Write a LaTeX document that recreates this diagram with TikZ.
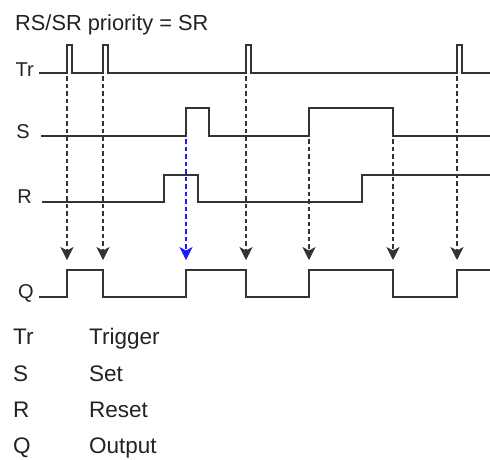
\documentclass[tikz,border=0pt]{standalone}
\usepackage{fontspec}
\setmainfont{Liberation Sans}
\usetikzlibrary{arrows.meta}
\definecolor{wave}{HTML}{333333}
\definecolor{txt}{HTML}{222222}
\definecolor{blu}{HTML}{1A1AFF}
\begin{document}
\begin{tikzpicture}[x=1pt,y=-1pt,
  wavel/.style={draw=wave,line width=2pt,line join=miter},
  dasharrow/.style={draw=wave,line width=1.3pt,dash pattern=on 4.5pt off 3pt,
    -{Stealth[length=13pt,width=13pt,inset=3.5pt]}},
  bluearrow/.style={dasharrow,draw=blu,color=blu},
  lab/.style={anchor=base east,inner sep=0pt,text=txt,font=\fontsize{20}{24}\selectfont},
  ttl/.style={anchor=base west,inner sep=0pt,text=txt,font=\fontsize{21.8}{26}\selectfont},
  leg/.style={anchor=base west,inner sep=0pt,text=txt,font=\fontsize{22.5}{27}\selectfont}]
\useasboundingbox (0,0) rectangle (490,459);
% title
\node[ttl] (title) at (15,30) {RS/SR priority = SR};
% signal labels
\node[lab] (lTr) at (34,76) {Tr};
\node[lab] (lS) at (30,138) {S};
\node[lab] (lR) at (32,203) {R};
\node[lab] (lQ) at (34,298) {Q};
% waveforms
\draw[wavel] (39,73) -- (67,73) -- (67,45) -- (72,45) -- (72,73) -- (103,73) -- (103,45) -- (108,45) -- (108,73)
  -- (246,73) -- (246,45) -- (251,45) -- (251,73) -- (457,73) -- (457,45) -- (462,45) -- (462,73) -- (491,73);
\draw[wavel] (41,136) -- (186,136) -- (186,108) -- (209,108) -- (209,136) -- (309,136) -- (309,108)
  -- (393,108) -- (393,136) -- (491,136);
\draw[wavel] (42,202) -- (164,202) -- (164,175) -- (198,175) -- (198,202) -- (362,202) -- (362,175) -- (491,175);
\draw[wavel] (39,297) -- (67,297) -- (67,270) -- (103,270) -- (103,297) -- (186,297) -- (186,270)
  -- (246,270) -- (246,297) -- (309,297) -- (309,270) -- (393,270) -- (393,297) -- (457,297) -- (457,270) -- (491,270);
% event coordinates
\coordinate (a1) at (67,76);  \coordinate (b1) at (67,260);
\coordinate (a2) at (103,76); \coordinate (b2) at (103,260);
\coordinate (a3) at (186,139); \coordinate (b3) at (186,260);
\coordinate (a4) at (246,76); \coordinate (b4) at (246,260);
\coordinate (a5) at (309,139); \coordinate (b5) at (309,260);
\coordinate (a6) at (393,139); \coordinate (b6) at (393,260);
\coordinate (a7) at (457,76); \coordinate (b7) at (457,260);
\draw[dasharrow] (a1) -- (b1);
\draw[dasharrow] (a2) -- (b2);
\draw[bluearrow] (a3) -- (b3);
\draw[dasharrow] (a4) -- (b4);
\draw[dasharrow] (a5) -- (b5);
\draw[dasharrow] (a6) -- (b6);
\draw[dasharrow] (a7) -- (b7);
% legend
\node[leg] (k1) at (13,344) {Tr};
\node[leg] (v1) at (89,344) {Trigger};
\node[leg] (k2) at (13,381) {S};
\node[leg] (v2) at (89,381) {Set};
\node[leg] (k3) at (13,417) {R};
\node[leg] (v3) at (89,417) {Reset};
\node[leg] (k4) at (13,453) {Q};
\node[leg] (v4) at (89,453) {Output};
\end{tikzpicture}
\end{document}
